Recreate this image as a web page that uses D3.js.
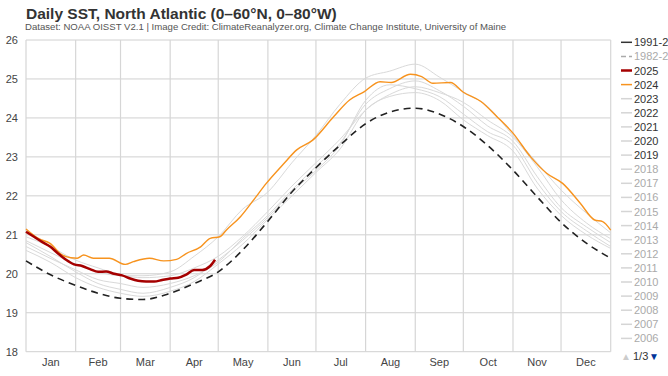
<!DOCTYPE html>
<html>
<head>
<meta charset="utf-8">
<script src="https://cdn.jsdelivr.net/npm/d3@7"></script>
<style>
  body { margin: 0; background: #fff; }
  svg { display: block; font-family: "Liberation Sans", Arial, sans-serif; }
</style>
</head>
<body>
<div id="plot"></div>
<script>
// Data (day of year, temperature in °C)
const months = ["Jan", "Feb", "Mar", "Apr", "May", "Jun", "Jul", "Aug", "Sep", "Oct", "Nov", "Dec"];
const monthStarts = [0, 31, 59, 90, 120, 151, 181, 212, 243, 273, 304, 334, 365];
const yTicks = [18, 19, 20, 21, 22, 23, 24, 25, 26];

const meanDays = [0, 15, 31, 45, 59, 73, 90, 105, 120, 135, 151, 166, 181, 196, 212, 227, 243, 258, 273, 288, 304, 319, 334, 350, 365];
const mean9120 = [20.33, 19.98, 19.70, 19.50, 19.37, 19.34, 19.50, 19.75, 20.05, 20.60, 21.35, 22.10, 22.72, 23.30, 23.85, 24.15, 24.25, 24.10, 23.78, 23.30, 22.66, 21.98, 21.32, 20.78, 20.40];

const days2025 = [0, 5, 10, 15, 20, 25, 30, 35, 40, 45, 50, 55, 60, 65, 70, 75, 80, 85, 90, 95, 100, 105, 110, 115, 118];
const sst2025 = [21.08, 20.95, 20.82, 20.70, 20.52, 20.36, 20.24, 20.20, 20.12, 20.05, 20.06, 20.00, 19.96, 19.88, 19.82, 19.80, 19.80, 19.84, 19.88, 19.90, 19.98, 20.10, 20.10, 20.20, 20.36];

const days2024 = [0, 8, 15, 22, 28, 32, 36, 42, 52, 62, 67, 77, 86, 94, 100, 109, 115, 121, 125, 134, 142, 150, 161, 169, 179, 192, 202, 211, 221, 228, 240, 247, 254, 265, 273, 284, 294, 304, 315, 325, 335, 346, 355, 360, 365];
const sst2024 = [21.15, 20.90, 20.78, 20.50, 20.41, 20.40, 20.48, 20.40, 20.40, 20.24, 20.31, 20.40, 20.33, 20.37, 20.52, 20.69, 20.91, 20.95, 21.12, 21.47, 21.89, 22.32, 22.83, 23.18, 23.43, 24.03, 24.46, 24.67, 24.93, 24.91, 25.12, 25.06, 24.89, 24.91, 24.66, 24.42, 24.03, 23.61, 23.00, 22.58, 22.32, 21.81, 21.38, 21.34, 21.12];

const grayDays = meanDays;
const sst2023 = [20.85, 20.55, 20.25, 20.05, 19.95, 19.95, 20.05, 20.45, 20.95, 21.65, 22.10, 22.85, 23.55, 24.35, 25.02, 25.20, 25.38, 25.05, 24.67, 24.30, 23.55, 22.85, 22.15, 21.55, 21.05];
const sst2022 = [20.95, 20.70, 20.35, 20.15, 19.97, 19.90, 19.95, 20.15, 20.45, 20.95, 21.60, 22.25, 22.85, 23.45, 24.20, 24.60, 24.80, 24.65, 24.40, 23.95, 23.50, 22.75, 21.90, 21.30, 20.90];
const sst2021 = [20.70, 20.40, 20.10, 19.85, 19.75, 19.65, 19.75, 19.95, 20.30, 20.90, 21.50, 22.15, 22.75, 23.35, 24.35, 24.75, 24.95, 24.70, 24.30, 23.80, 23.40, 22.50, 21.70, 21.20, 20.80];
const sst2020 = [20.80, 20.45, 20.05, 19.75, 19.60, 19.50, 19.65, 19.90, 20.35, 20.85, 21.45, 22.10, 22.65, 23.30, 24.45, 24.85, 24.75, 24.55, 24.10, 23.65, 23.30, 22.35, 21.60, 21.10, 20.70];
const sst2019 = [20.60, 20.30, 19.90, 19.65, 19.50, 19.42, 19.55, 19.80, 20.25, 20.75, 21.40, 22.00, 22.60, 23.20, 24.20, 24.55, 24.65, 24.45, 23.95, 23.55, 23.15, 22.20, 21.50, 21.00, 20.65];

const legendNames = ["1991-2020 mean", "1982-2011 mean", "2025", "2024", "2023", "2022", "2021", "2020", "2019",
  "2018", "2017", "2016", "2015", "2014", "2013", "2012", "2011", "2010", "2009", "2008", "2007", "2006"];

// Set up dimensions
const width = 668, height = 376;
const margin = { top: 40, right: 57.3, bottom: 24.3, left: 26 };

const svg = d3.select("#plot")
    .append("svg")
    .attr("width", width)
    .attr("height", height);

const x = d3.scaleLinear().domain([0, 365]).range([margin.left, width - margin.right]);
const y = d3.scaleLinear().domain([18, 26]).range([height - margin.bottom, margin.top]);

// Title and subtitle
svg.append("text")
    .attr("x", 26).attr("y", 18.5)
    .attr("fill", "#333")
    .style("font-size", "15.5px").style("font-weight", "bold")
    .text("Daily SST, North Atlantic (0–60°N, 0–80°W)");
svg.append("text")
    .attr("x", 25).attr("y", 30)
    .attr("fill", "#555")
    .style("font-size", "9.6px")
    .text("Dataset: NOAA OISST V2.1 | Image Credit: ClimateReanalyzer.org, Climate Change Institute, University of Maine");

// Grid
svg.append("g")
    .selectAll("line")
    .data(yTicks)
    .enter().append("line")
    .attr("x1", x(0)).attr("x2", x(365))
    .attr("y1", d => y(d)).attr("y2", d => y(d))
    .attr("stroke", "#d0d0d0").attr("stroke-width", 1);

svg.append("g")
    .selectAll("line")
    .data(monthStarts)
    .enter().append("line")
    .attr("x1", d => x(d)).attr("x2", d => x(d))
    .attr("y1", y(26)).attr("y2", y(18))
    .attr("stroke", "#d6d6d6").attr("stroke-width", 1.2);

// Axis labels
svg.append("g")
    .selectAll("text")
    .data(yTicks)
    .enter().append("text")
    .attr("x", 18).attr("y", d => y(d) + 4)
    .attr("text-anchor", "end")
    .attr("fill", "#444")
    .style("font-size", "11px")
    .text(d => d);

svg.append("g")
    .selectAll("text")
    .data(months)
    .enter().append("text")
    .attr("x", (d, i) => x((monthStarts[i] + monthStarts[i + 1]) / 2))
    .attr("y", 366)
    .attr("text-anchor", "middle")
    .attr("fill", "#444")
    .style("font-size", "11px")
    .text(d => d);

// Lines
const line = d3.line()
    .x(d => x(d[0]))
    .y(d => y(d[1]))
    .curve(d3.curveMonotoneX);

const pairs = (days, vals) => days.map((d, i) => [d, vals[i]]);

const series = [
    { values: pairs(grayDays, sst2019), color: "#d9d9d9", width: 1 },
    { values: pairs(grayDays, sst2020), color: "#d9d9d9", width: 1 },
    { values: pairs(grayDays, sst2021), color: "#d9d9d9", width: 1 },
    { values: pairs(grayDays, sst2022), color: "#d9d9d9", width: 1 },
    { values: pairs(grayDays, sst2023), color: "#d9d9d9", width: 1 },
    { values: pairs(meanDays, mean9120), color: "#222", width: 1.6, dash: "7,5" },
    { values: pairs(days2024, sst2024), color: "#f7931e", width: 1.4 },
    { values: pairs(days2025, sst2025), color: "#a50000", width: 2.5 }
];

svg.append("g")
    .selectAll("path")
    .data(series)
    .enter().append("path")
    .attr("d", d => line(d.values))
    .attr("fill", "none")
    .attr("stroke", d => d.color)
    .attr("stroke-width", d => d.width)
    .attr("stroke-dasharray", d => d.dash || null)
    .attr("stroke-linejoin", "round");

// Legend (the two mean labels run past the right edge, as in the original)
const legendColor = (name, i) => {
    if (i === 0) return "#333";
    if (i === 1) return "#aaa";
    if (name === "2025") return "#a50000";
    if (name === "2024") return "#f7931e";
    return "#d5d5d5";
};
const legend = svg.append("g")
    .selectAll("g")
    .data(legendNames)
    .enter().append("g")
    .attr("transform", (d, i) => `translate(621, ${42.3 + i * 14.1})`);

legend.append("line")
    .attr("x1", 0).attr("x2", 11)
    .attr("stroke", legendColor)
    .attr("stroke-width", (d, i) => i === 2 ? 2.5 : 1.5)
    .attr("stroke-dasharray", (d, i) => i === 1 ? "5,3" : null);

legend.append("text")
    .attr("x", 13).attr("y", 4)
    .attr("fill", (d, i) => (i === 1 || i >= 9) ? "#aaa" : "#333")
    .style("font-size", "11px")
    .text(d => d);

// Legend pager
svg.append("text")
    .attr("x", 621).attr("y", 360)
    .attr("fill", "#ccc").style("font-size", "10px")
    .text("▲");
svg.append("text")
    .attr("x", 633).attr("y", 360)
    .attr("fill", "#333").style("font-size", "11px")
    .text("1/3");
svg.append("text")
    .attr("x", 649).attr("y", 360)
    .attr("fill", "#003399").style("font-size", "10px")
    .text("▼");
</script>
</body>
</html>
